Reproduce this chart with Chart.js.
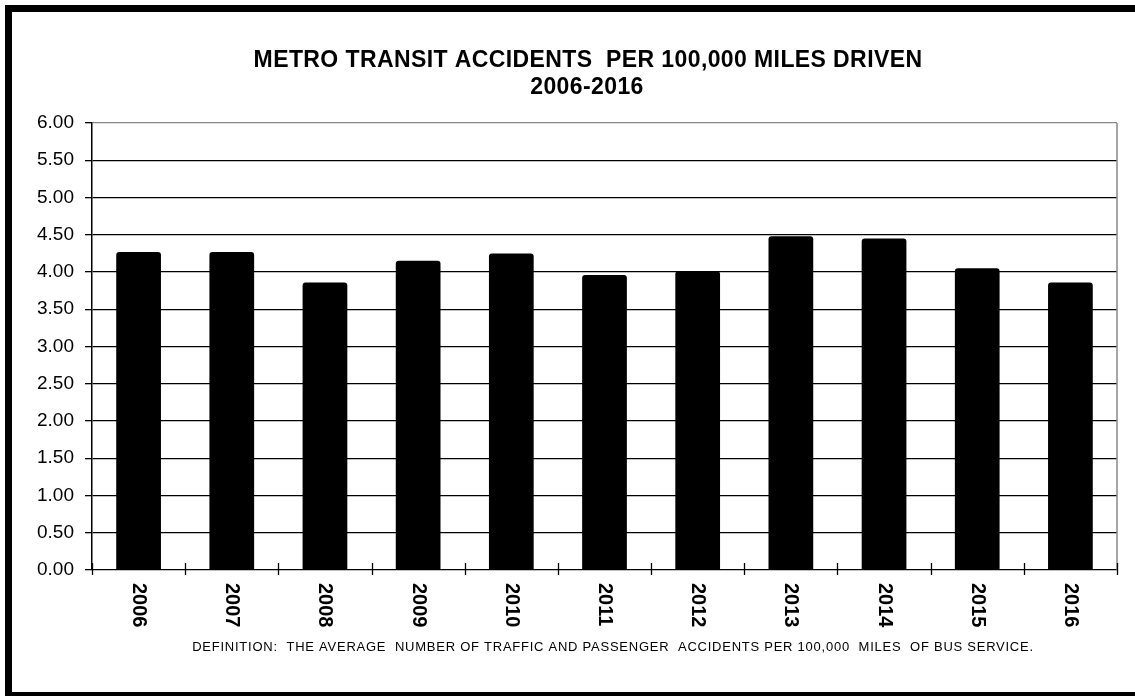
<!DOCTYPE html>
<html>
<head>
<meta charset="utf-8">
<script src="https://cdn.jsdelivr.net/npm/chart.js@4.4.1/dist/chart.umd.min.js"></script>
<style>
    html, body { margin: 0; padding: 0; background: #fff; overflow: hidden; }
    #wrap { position: relative; width: 1135px; height: 696px; }
    #frame {
        position: absolute; left: 5px; top: 5px; width: 1140px; height: 694px;
        box-sizing: border-box; border: 7px solid #000; pointer-events: none;
    }
</style>
</head>
<body>
<div id="wrap">
    <canvas id="chart-area" width="1135" height="696"></canvas>
    <div id="frame"></div>
</div>
<script>
var anos = ['2006', '2007', '2008', '2009', '2010', '2011', '2012', '2013', '2014', '2015', '2016'];
var acidentes = [4.27, 4.27, 3.86, 4.15, 4.25, 3.96, 4.01, 4.48, 4.45, 4.05, 3.86];
var tituloLinhas = ['METRO TRANSIT ACCIDENTS  PER 100,000 MILES DRIVEN', '2006-2016'];
var definicao = 'DEFINITION:  THE AVERAGE  NUMBER OF TRAFFIC AND PASSENGER  ACCIDENTS PER 100,000  MILES  OF BUS SERVICE.';

var FONTE = "'Liberation Sans', Arial, sans-serif";

// desenha titulo, rotulos do eixo x, marcas e a definicao
var extras = {
    id: 'extras',
    afterDraw: function(chart) {
        var ctx = chart.ctx;
        var area = chart.chartArea;
        var x = chart.scales.x;
        ctx.save();

        // borda direita cinza
        ctx.strokeStyle = '#888';
        ctx.lineWidth = 1.5;
        ctx.beginPath();
        ctx.moveTo(area.right, area.top);
        ctx.lineTo(area.right, area.bottom);
        ctx.stroke();

        // marcas entre categorias
        ctx.strokeStyle = '#000';
        ctx.lineWidth = 1.3;
        var passo = (x.getPixelForValue(1) - x.getPixelForValue(0));
        for (var i = 0; i <= anos.length; i++) {
            var px = Math.round(x.getPixelForValue(i) - passo / 2) + 0.5;
            ctx.beginPath();
            ctx.moveTo(px, area.bottom - 7);
            ctx.lineTo(px, area.bottom + 5);
            ctx.stroke();
        }

        // rotulos do eixo x, lidos de cima para baixo
        ctx.fillStyle = '#000';
        ctx.font = 'bold 20px ' + FONTE;
        ctx.textAlign = 'left';
        ctx.textBaseline = 'middle';
        for (var j = 0; j < anos.length; j++) {
            ctx.save();
            ctx.translate(x.getPixelForValue(j), area.bottom + 13);
            ctx.rotate(Math.PI / 2);
            ctx.fillText(anos[j], 0, 0);
            ctx.restore();
        }

        // titulo
        ctx.font = 'bold 23px ' + FONTE;
        ctx.letterSpacing = '0.4px';
        ctx.textAlign = 'center';
        ctx.textBaseline = 'alphabetic';
        ctx.fillText(tituloLinhas[0], 588, 67);
        ctx.fillText(tituloLinhas[1], 587, 94);

        // definicao
        ctx.font = '13px ' + FONTE;
        ctx.letterSpacing = '0.75px';
        ctx.fillText(definicao, 613, 651);

        ctx.restore();
    }
};

var ctx = document.getElementById('chart-area').getContext('2d');
var config = {
    type: 'bar',
    data: {
        labels: anos,
        datasets: [{
            data: acidentes,
            backgroundColor: '#000',
            borderWidth: 0,
            borderRadius: { topLeft: 3, topRight: 3, bottomLeft: 0, bottomRight: 0 },
            borderSkipped: false,
            barPercentage: 0.48,
            categoryPercentage: 1.0
        }]
    },
    options: {
        responsive: false,
        animation: false,
        layout: { padding: { top: 123, bottom: 126, left: 0, right: 18 } },
        plugins: {
            legend: { display: false },
            title: { display: false },
            tooltip: { enabled: false }
        },
        scales: {
            x: {
                display: false
            },
            y: {
                min: 0,
                max: 6,
                afterFit: function(scale) { scale.width = 92; },
                ticks: {
                    stepSize: 0.5,
                    padding: 11,
                    color: '#000',
                    font: { family: FONTE, size: 19 },
                    callback: function(v) { return v.toFixed(2); }
                },
                grid: {
                    color: function(c) { return c.tick && c.tick.value === 6 ? '#888' : '#000'; },
                    lineWidth: 1.3,
                    tickLength: 7,
                    tickColor: '#000'
                },
                border: { color: '#000', width: 1.5 }
            }
        }
    },
    plugins: [extras]
};

window.myBar = new Chart(ctx, config);
</script>
</body>
</html>
